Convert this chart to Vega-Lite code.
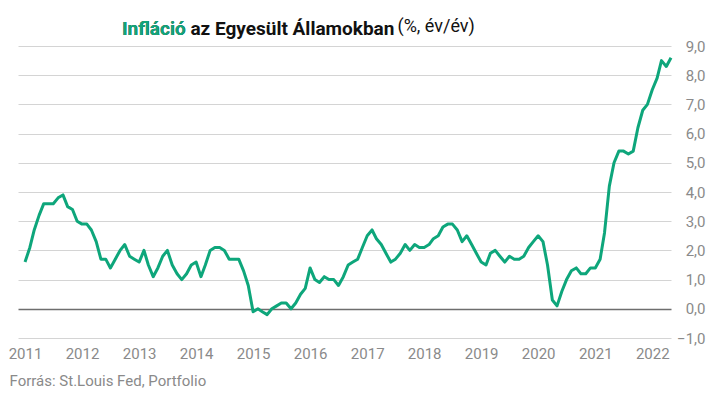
{
  "$schema": "https://vega.github.io/schema/vega-lite/v6.json",
  "width": 653,
  "height": 292,
  "autosize": "none",
  "padding": {"left": 18, "top": 46, "right": 48, "bottom": 62},
  "background": "white",
  "config": {"view": {"stroke": null}, "font": "Roboto"},
  "title": {
    "text": "Infláció az Egyesült Államokban",
    "subtitle": "Infláció",
    "anchor": "start",
    "frame": "group",
    "dx": 104,
    "font": "Roboto",
    "fontSize": 19,
    "fontWeight": "bold",
    "color": "#111111",
    "subtitleFont": "Roboto",
    "subtitleFontSize": 19,
    "subtitleFontWeight": "bold",
    "subtitleColor": "#12a57a",
    "subtitlePadding": -19,
    "offset": -22
  },
  "data": {
    "values": [
      {"date": "2011-01-01", "v": 1.6}, {"date": "2011-02-01", "v": 2.1}, {"date": "2011-03-01", "v": 2.7}, {"date": "2011-04-01", "v": 3.2}, {"date": "2011-05-01", "v": 3.6}, {"date": "2011-06-01", "v": 3.6}, {"date": "2011-07-01", "v": 3.6}, {"date": "2011-08-01", "v": 3.8}, {"date": "2011-09-01", "v": 3.9}, {"date": "2011-10-01", "v": 3.5}, {"date": "2011-11-01", "v": 3.4}, {"date": "2011-12-01", "v": 3.0},
      {"date": "2012-01-01", "v": 2.9}, {"date": "2012-02-01", "v": 2.9}, {"date": "2012-03-01", "v": 2.7}, {"date": "2012-04-01", "v": 2.3}, {"date": "2012-05-01", "v": 1.7}, {"date": "2012-06-01", "v": 1.7}, {"date": "2012-07-01", "v": 1.4}, {"date": "2012-08-01", "v": 1.7}, {"date": "2012-09-01", "v": 2.0}, {"date": "2012-10-01", "v": 2.2}, {"date": "2012-11-01", "v": 1.8}, {"date": "2012-12-01", "v": 1.7},
      {"date": "2013-01-01", "v": 1.6}, {"date": "2013-02-01", "v": 2.0}, {"date": "2013-03-01", "v": 1.5}, {"date": "2013-04-01", "v": 1.1}, {"date": "2013-05-01", "v": 1.4}, {"date": "2013-06-01", "v": 1.8}, {"date": "2013-07-01", "v": 2.0}, {"date": "2013-08-01", "v": 1.5}, {"date": "2013-09-01", "v": 1.2}, {"date": "2013-10-01", "v": 1.0}, {"date": "2013-11-01", "v": 1.2}, {"date": "2013-12-01", "v": 1.5},
      {"date": "2014-01-01", "v": 1.6}, {"date": "2014-02-01", "v": 1.1}, {"date": "2014-03-01", "v": 1.5}, {"date": "2014-04-01", "v": 2.0}, {"date": "2014-05-01", "v": 2.1}, {"date": "2014-06-01", "v": 2.1}, {"date": "2014-07-01", "v": 2.0}, {"date": "2014-08-01", "v": 1.7}, {"date": "2014-09-01", "v": 1.7}, {"date": "2014-10-01", "v": 1.7}, {"date": "2014-11-01", "v": 1.3}, {"date": "2014-12-01", "v": 0.8},
      {"date": "2015-01-01", "v": -0.1}, {"date": "2015-02-01", "v": 0.0}, {"date": "2015-03-01", "v": -0.1}, {"date": "2015-04-01", "v": -0.2}, {"date": "2015-05-01", "v": 0.0}, {"date": "2015-06-01", "v": 0.1}, {"date": "2015-07-01", "v": 0.2}, {"date": "2015-08-01", "v": 0.2}, {"date": "2015-09-01", "v": 0.0}, {"date": "2015-10-01", "v": 0.2}, {"date": "2015-11-01", "v": 0.5}, {"date": "2015-12-01", "v": 0.7},
      {"date": "2016-01-01", "v": 1.4}, {"date": "2016-02-01", "v": 1.0}, {"date": "2016-03-01", "v": 0.9}, {"date": "2016-04-01", "v": 1.1}, {"date": "2016-05-01", "v": 1.0}, {"date": "2016-06-01", "v": 1.0}, {"date": "2016-07-01", "v": 0.8}, {"date": "2016-08-01", "v": 1.1}, {"date": "2016-09-01", "v": 1.5}, {"date": "2016-10-01", "v": 1.6}, {"date": "2016-11-01", "v": 1.7}, {"date": "2016-12-01", "v": 2.1},
      {"date": "2017-01-01", "v": 2.5}, {"date": "2017-02-01", "v": 2.7}, {"date": "2017-03-01", "v": 2.4}, {"date": "2017-04-01", "v": 2.2}, {"date": "2017-05-01", "v": 1.9}, {"date": "2017-06-01", "v": 1.6}, {"date": "2017-07-01", "v": 1.7}, {"date": "2017-08-01", "v": 1.9}, {"date": "2017-09-01", "v": 2.2}, {"date": "2017-10-01", "v": 2.0}, {"date": "2017-11-01", "v": 2.2}, {"date": "2017-12-01", "v": 2.1},
      {"date": "2018-01-01", "v": 2.1}, {"date": "2018-02-01", "v": 2.2}, {"date": "2018-03-01", "v": 2.4}, {"date": "2018-04-01", "v": 2.5}, {"date": "2018-05-01", "v": 2.8}, {"date": "2018-06-01", "v": 2.9}, {"date": "2018-07-01", "v": 2.9}, {"date": "2018-08-01", "v": 2.7}, {"date": "2018-09-01", "v": 2.3}, {"date": "2018-10-01", "v": 2.5}, {"date": "2018-11-01", "v": 2.2}, {"date": "2018-12-01", "v": 1.9},
      {"date": "2019-01-01", "v": 1.6}, {"date": "2019-02-01", "v": 1.5}, {"date": "2019-03-01", "v": 1.9}, {"date": "2019-04-01", "v": 2.0}, {"date": "2019-05-01", "v": 1.8}, {"date": "2019-06-01", "v": 1.6}, {"date": "2019-07-01", "v": 1.8}, {"date": "2019-08-01", "v": 1.7}, {"date": "2019-09-01", "v": 1.7}, {"date": "2019-10-01", "v": 1.8}, {"date": "2019-11-01", "v": 2.1}, {"date": "2019-12-01", "v": 2.3},
      {"date": "2020-01-01", "v": 2.5}, {"date": "2020-02-01", "v": 2.3}, {"date": "2020-03-01", "v": 1.5}, {"date": "2020-04-01", "v": 0.3}, {"date": "2020-05-01", "v": 0.1}, {"date": "2020-06-01", "v": 0.6}, {"date": "2020-07-01", "v": 1.0}, {"date": "2020-08-01", "v": 1.3}, {"date": "2020-09-01", "v": 1.4}, {"date": "2020-10-01", "v": 1.2}, {"date": "2020-11-01", "v": 1.2}, {"date": "2020-12-01", "v": 1.4},
      {"date": "2021-01-01", "v": 1.4}, {"date": "2021-02-01", "v": 1.7}, {"date": "2021-03-01", "v": 2.6}, {"date": "2021-04-01", "v": 4.2}, {"date": "2021-05-01", "v": 5.0}, {"date": "2021-06-01", "v": 5.4}, {"date": "2021-07-01", "v": 5.4}, {"date": "2021-08-01", "v": 5.3}, {"date": "2021-09-01", "v": 5.4}, {"date": "2021-10-01", "v": 6.2}, {"date": "2021-11-01", "v": 6.8}, {"date": "2021-12-01", "v": 7.0},
      {"date": "2022-01-01", "v": 7.5}, {"date": "2022-02-01", "v": 7.9}, {"date": "2022-03-01", "v": 8.5}, {"date": "2022-04-01", "v": 8.3}, {"date": "2022-05-01", "v": 8.6}
    ]
  },
  "mark": {"type": "line", "color": "#0ea67b", "strokeWidth": 3, "strokeJoin": "round"},
  "encoding": {
    "x": {
      "field": "date",
      "type": "temporal",
      "scale": {"type": "utc", "domain": [{"year": 2010, "month": 11, "date": 17, "utc": true}, {"year": 2022, "month": 5, "date": 1, "utc": true}]},
      "axis": {
        "format": "%Y",
        "formatType": "utc",
        "tickCount": {"interval": "year", "step": 1},
        "grid": false,
        "domain": false,
        "ticks": false,
        "labelFlush": false,
        "labelOverlap": false,
        "labelPadding": 8,
        "labelFont": "Roboto",
        "labelFontSize": 15,
        "labelColor": "#8a8a8a",
        "title": "Forrás: St.Louis Fed, Portfolio",
        "titleX": -9,
        "titleY": 47,
        "titleAlign": "left",
        "titleAnchor": "start",
        "titleBaseline": "alphabetic",
        "titleFont": "Roboto",
        "titleFontSize": 15,
        "titleFontWeight": "normal",
        "titleColor": "#8a8a8a"
      }
    },
    "y": {
      "field": "v",
      "type": "quantitative",
      "scale": {"domain": [-1, 9], "nice": false, "zero": false},
      "axis": {
        "orient": "right",
        "values": [-1, 0, 1, 2, 3, 4, 5, 6, 7, 8, 9],
        "labelExpr": "replace(format(datum.value, '.1f'), '.', ',')",
        "labelOverlap": false,
        "grid": true,
        "gridColor": {"condition": {"test": "datum.value === 0", "value": "#6e6e6e"}, "value": "#d4d4d4"},
        "gridWidth": {"condition": {"test": "datum.value === 0", "value": 1.3}, "value": 1},
        "domain": false,
        "ticks": false,
        "labelPadding": 34,
        "labelAlign": "right",
        "labelFont": "Roboto",
        "labelFontSize": 15,
        "labelColor": "#8a8a8a",
        "title": "(%, év/év)",
        "titleAngle": 0,
        "titleX": -274,
        "titleY": -15,
        "titleAlign": "left",
        "titleBaseline": "alphabetic",
        "titleFont": "Roboto",
        "titleFontSize": 18,
        "titleFontWeight": "normal",
        "titleColor": "#111111"
      }
    }
  }
}
